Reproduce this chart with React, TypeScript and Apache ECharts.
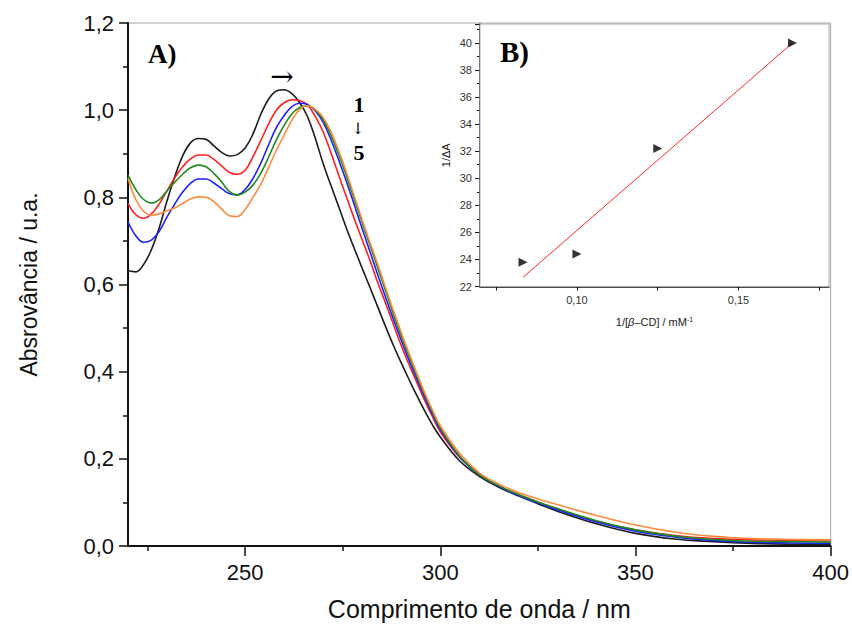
import React, { useEffect, useRef } from "react";
import * as echarts from "echarts";

// ---- Main panel A): UV-Vis spectra ----
const wavelength = [
  220, 222, 224, 226, 228, 230, 232, 234, 236, 238, 240, 242, 244, 246, 248, 250,
  252, 254, 256, 258, 260, 262, 264, 266, 268, 270, 272, 274, 276, 278, 280, 282,
  284, 286, 288, 290, 292, 294, 296, 298, 300, 305, 310, 315, 320, 325, 330, 340,
  350, 360, 370, 380, 390, 400,
];

const abs1 = [
  0.632, 0.629, 0.646, 0.68, 0.73, 0.792, 0.848, 0.895, 0.925, 0.935, 0.933, 0.918, 0.903, 0.895, 0.898, 0.913,
  0.945, 0.99, 1.025, 1.044, 1.047, 1.038, 1.017, 0.985, 0.935, 0.877, 0.827, 0.778, 0.728, 0.682, 0.637, 0.593,
  0.548, 0.503, 0.46, 0.42, 0.382, 0.345, 0.31, 0.278, 0.25, 0.195, 0.16, 0.135, 0.115, 0.097, 0.08, 0.051,
  0.029, 0.016, 0.01, 0.006, 0.004, 0.003,
];
const abs2 = [
  0.786, 0.76, 0.752, 0.762, 0.785, 0.815, 0.845, 0.87, 0.888, 0.897, 0.897, 0.887, 0.872, 0.857, 0.853, 0.862,
  0.893, 0.93, 0.968, 1.0, 1.017, 1.024, 1.022, 1.012, 0.985, 0.95, 0.902, 0.85, 0.8, 0.75, 0.702, 0.655,
  0.604, 0.557, 0.508, 0.46, 0.416, 0.375, 0.334, 0.297, 0.262, 0.203, 0.165, 0.138, 0.118, 0.101, 0.085, 0.057,
  0.037, 0.024, 0.017, 0.014, 0.013, 0.012,
];
const abs3 = [
  0.744, 0.712, 0.697, 0.702, 0.722, 0.755, 0.785, 0.812, 0.832, 0.842, 0.842, 0.833, 0.82, 0.808, 0.806, 0.818,
  0.843, 0.878, 0.92, 0.96, 0.988, 1.008, 1.016, 1.013, 0.998, 0.972, 0.932, 0.885, 0.835, 0.782, 0.728, 0.675,
  0.622, 0.57, 0.52, 0.472, 0.426, 0.383, 0.341, 0.302, 0.267, 0.204, 0.163, 0.137, 0.116, 0.099, 0.083, 0.055,
  0.034, 0.021, 0.013, 0.009, 0.007, 0.006,
];
const abs4 = [
  0.851, 0.818, 0.795, 0.787, 0.795, 0.815, 0.835, 0.853, 0.868, 0.874, 0.87, 0.855, 0.835, 0.813, 0.805, 0.812,
  0.828, 0.855, 0.892, 0.932, 0.965, 0.992, 1.006, 1.01, 1.0, 0.978, 0.942, 0.898, 0.848, 0.795, 0.742, 0.69,
  0.638, 0.585, 0.532, 0.482, 0.435, 0.39, 0.347, 0.307, 0.271, 0.206, 0.164, 0.138, 0.118, 0.101, 0.086, 0.058,
  0.037, 0.023, 0.015, 0.011, 0.01, 0.009,
];
const abs5 = [
  0.844, 0.795, 0.768, 0.759, 0.762, 0.769, 0.776, 0.786, 0.796, 0.801, 0.8, 0.79, 0.773, 0.758, 0.756, 0.772,
  0.8, 0.83, 0.868, 0.908, 0.943, 0.977, 1.002, 1.01, 1.002, 0.983, 0.95, 0.906, 0.856, 0.802, 0.748, 0.696,
  0.646, 0.592, 0.54, 0.49, 0.442, 0.396, 0.352, 0.312, 0.276, 0.212, 0.168, 0.142, 0.123, 0.108, 0.095, 0.07,
  0.048, 0.032, 0.022, 0.017, 0.015, 0.014,
];

const spectra = [abs1, abs2, abs3, abs4, abs5];
const spectraNames = ["1", "2", "3", "4", "5"];
const spectraColors = ["#1c1c1c", "#ff1f1f", "#1f1fff", "#1e8a1e", "#ff8a3d"];

const mainXLabels = [250, 300, 350, 400];
const mainXMinorTicks = [225, 275, 325, 375];

// ---- Inset B): double reciprocal plot ----
const invCD = [0.0833, 0.1, 0.125, 0.1667];
const invDeltaA = [23.8, 24.4, 32.2, 40.0];
const fitX = [0.0834, 0.1667];
const fitY = [22.7, 40.0];
const insetXLabels = [0.1, 0.15];
const insetXTicks = [0.075, 0.1, 0.125, 0.15, 0.175];

const comma = (v: number, d: number) => v.toFixed(d).replace(".", ",");

export default function App() {
  const ref = useRef<HTMLDivElement>(null);

  useEffect(() => {
    if (!ref.current) return;
    const chart = echarts.init(ref.current, null, { renderer: "svg" });
    const black = "#111";
    const sans = "Liberation Sans, Arial, Helvetica, sans-serif";
    const serif = "Liberation Serif, Times New Roman, serif";
    const arrowFont = "DejaVu Serif, DejaVu Sans, serif";

    const mainSeries = spectra.map((vals, i) => ({
      type: "line",
      name: spectraNames[i],
      xAxisIndex: 0,
      yAxisIndex: 0,
      data: wavelength.map((w, j) => [w, vals[j]]),
      smooth: 0.4,
      symbol: "none",
      lineStyle: { color: spectraColors[i], width: 1.6 },
      z: 2 + i,
    }));

    const option: any = {
      animation: false,
      backgroundColor: "#ffffff",
      grid: [
        {
          left: 128,
          right: 20,
          top: 23,
          bottom: 84,
          show: true,
          borderColor: "#a8a8a8",
          borderWidth: 1,
          backgroundColor: "#ffffff",
        },
        {
          left: 480,
          right: 23,
          top: 24,
          bottom: 343.5,
          show: true,
          borderColor: "#a8a8a8",
          borderWidth: 1,
          backgroundColor: "#ffffff",
          z: 10,
        },
      ],
      xAxis: [
        {
          type: "value",
          gridIndex: 0,
          min: 220,
          max: 400,
          name: "Comprimento de onda / nm",
          nameLocation: "middle",
          nameGap: 50,
          nameTextStyle: { fontFamily: sans, fontSize: 25, color: black },
          axisLine: { show: true, onZero: false, lineStyle: { color: black, width: 2 } },
          axisTick: {
            show: true,
            inside: false,
            length: 10,
            customValues: mainXLabels,
            lineStyle: { color: black, width: 1.5 },
          },
          axisLabel: {
            customValues: mainXLabels,
            fontFamily: sans,
            fontSize: 22,
            color: black,
            margin: 15,
            formatter: (v: number) => String(v),
          },
          splitLine: { show: false },
        },
        {
          type: "value",
          gridIndex: 0,
          min: 220,
          max: 400,
          position: "bottom",
          axisLine: { show: false },
          axisTick: {
            show: true,
            length: 5,
            customValues: mainXMinorTicks,
            lineStyle: { color: black, width: 1.5 },
          },
          axisLabel: { show: false },
          splitLine: { show: false },
        },
        {
          type: "value",
          gridIndex: 1,
          min: 0.07,
          max: 0.178,
          name: "1/[{it|β}–CD] / mM{sup|-1}",
          nameLocation: "middle",
          nameGap: 29,
          nameTextStyle: {
            fontFamily: sans,
            fontSize: 11,
            color: "#222",
            rich: {
              it: { fontFamily: sans, fontSize: 11, fontStyle: "italic", color: "#222" },
              sup: { fontFamily: sans, fontSize: 7, color: "#222", verticalAlign: "top", padding: [0, 0, 6, 0] },
            },
          },
          axisLine: { show: true, onZero: false, lineStyle: { color: black, width: 1.5 } },
          axisTick: {
            show: true,
            length: 4,
            customValues: insetXTicks,
            lineStyle: { color: black, width: 1 },
          },
          axisLabel: {
            customValues: insetXLabels,
            fontFamily: sans,
            fontSize: 11,
            color: "#333",
            margin: 8,
            formatter: (v: number) => comma(v, 2),
          },
          splitLine: { show: false },
        },
      ],
      yAxis: [
        {
          type: "value",
          gridIndex: 0,
          min: 0,
          max: 1.2,
          interval: 0.2,
          name: "Absrovância / u.a.",
          nameLocation: "middle",
          nameGap: 88,
          nameTextStyle: { fontFamily: sans, fontSize: 23, color: black },
          axisLine: { show: true, onZero: false, lineStyle: { color: black, width: 2 } },
          axisTick: { show: true, length: 9, lineStyle: { color: black, width: 1.5 } },
          minorTick: { show: true, splitNumber: 2, length: 5, lineStyle: { color: black, width: 1.5 } },
          axisLabel: {
            fontFamily: sans,
            fontSize: 22,
            color: black,
            margin: 14,
            formatter: (v: number) => comma(v, 1),
          },
          splitLine: { show: false },
          minorSplitLine: { show: false },
        },
        {
          type: "value",
          gridIndex: 1,
          min: 22,
          max: 41.4,
          interval: 2,
          name: "1/ΔA",
          nameLocation: "middle",
          nameGap: 29,
          nameTextStyle: { fontFamily: sans, fontSize: 11, color: "#222" },
          axisLine: { show: true, onZero: false, lineStyle: { color: black, width: 1.5 } },
          axisTick: { show: true, length: 5, lineStyle: { color: black, width: 1 } },
          minorTick: { show: true, splitNumber: 2, length: 3, lineStyle: { color: black, width: 1 } },
          axisLabel: {
            fontFamily: sans,
            fontSize: 11,
            color: "#333",
            margin: 8,
            showMaxLabel: false,
            formatter: (v: number) => (Number.isInteger(v) ? String(v) : ""),
          },
          splitLine: { show: false },
          minorSplitLine: { show: false },
        },
      ],
      series: [
        ...mainSeries,
        {
          type: "line",
          name: "fit",
          xAxisIndex: 2,
          yAxisIndex: 1,
          data: fitX.map((x, i) => [x, fitY[i]]),
          symbol: "none",
          lineStyle: { color: "#ff2a2a", width: 1 },
          z: 12,
        },
        {
          type: "scatter",
          name: "B",
          xAxisIndex: 2,
          yAxisIndex: 1,
          data: invCD.map((x, i) => [x, invDeltaA[i]]),
          symbol: "triangle",
          symbolRotate: -90,
          symbolSize: 9,
          itemStyle: { color: "#000" },
          z: 13,
        },
      ],
      graphic: [
        {
          type: "text",
          left: 148,
          top: 40,
          z: 20,
          style: { text: "A)", font: `bold 27px ${serif}`, fill: "#000" },
        },
        {
          type: "text",
          left: 500,
          top: 37,
          z: 20,
          style: { text: "B)", font: `bold 29px ${serif}`, fill: "#000" },
        },
        {
          type: "text",
          x: 282,
          y: 76,
          z: 20,
          style: { text: "→", font: `28px ${arrowFont}`, fill: "#000", align: "center", verticalAlign: "middle" },
        },
        {
          type: "text",
          x: 359,
          y: 104,
          z: 20,
          style: { text: "1", font: `bold 22px ${serif}`, fill: "#000", align: "center", verticalAlign: "middle" },
        },
        {
          type: "text",
          x: 358,
          y: 128,
          z: 20,
          style: { text: "↓", font: `16px ${arrowFont}`, fill: "#000", align: "center", verticalAlign: "middle" },
        },
        {
          type: "text",
          x: 359,
          y: 152,
          z: 20,
          style: { text: "5", font: `bold 22px ${serif}`, fill: "#000", align: "center", verticalAlign: "middle" },
        },
      ],
    };

    chart.setOption(option);
    return () => chart.dispose();
  }, []);

  return (
    <div
      ref={ref}
      style={{ position: "absolute", left: 0, top: 0, width: 852, height: 630, background: "#fff" }}
    />
  );
}
